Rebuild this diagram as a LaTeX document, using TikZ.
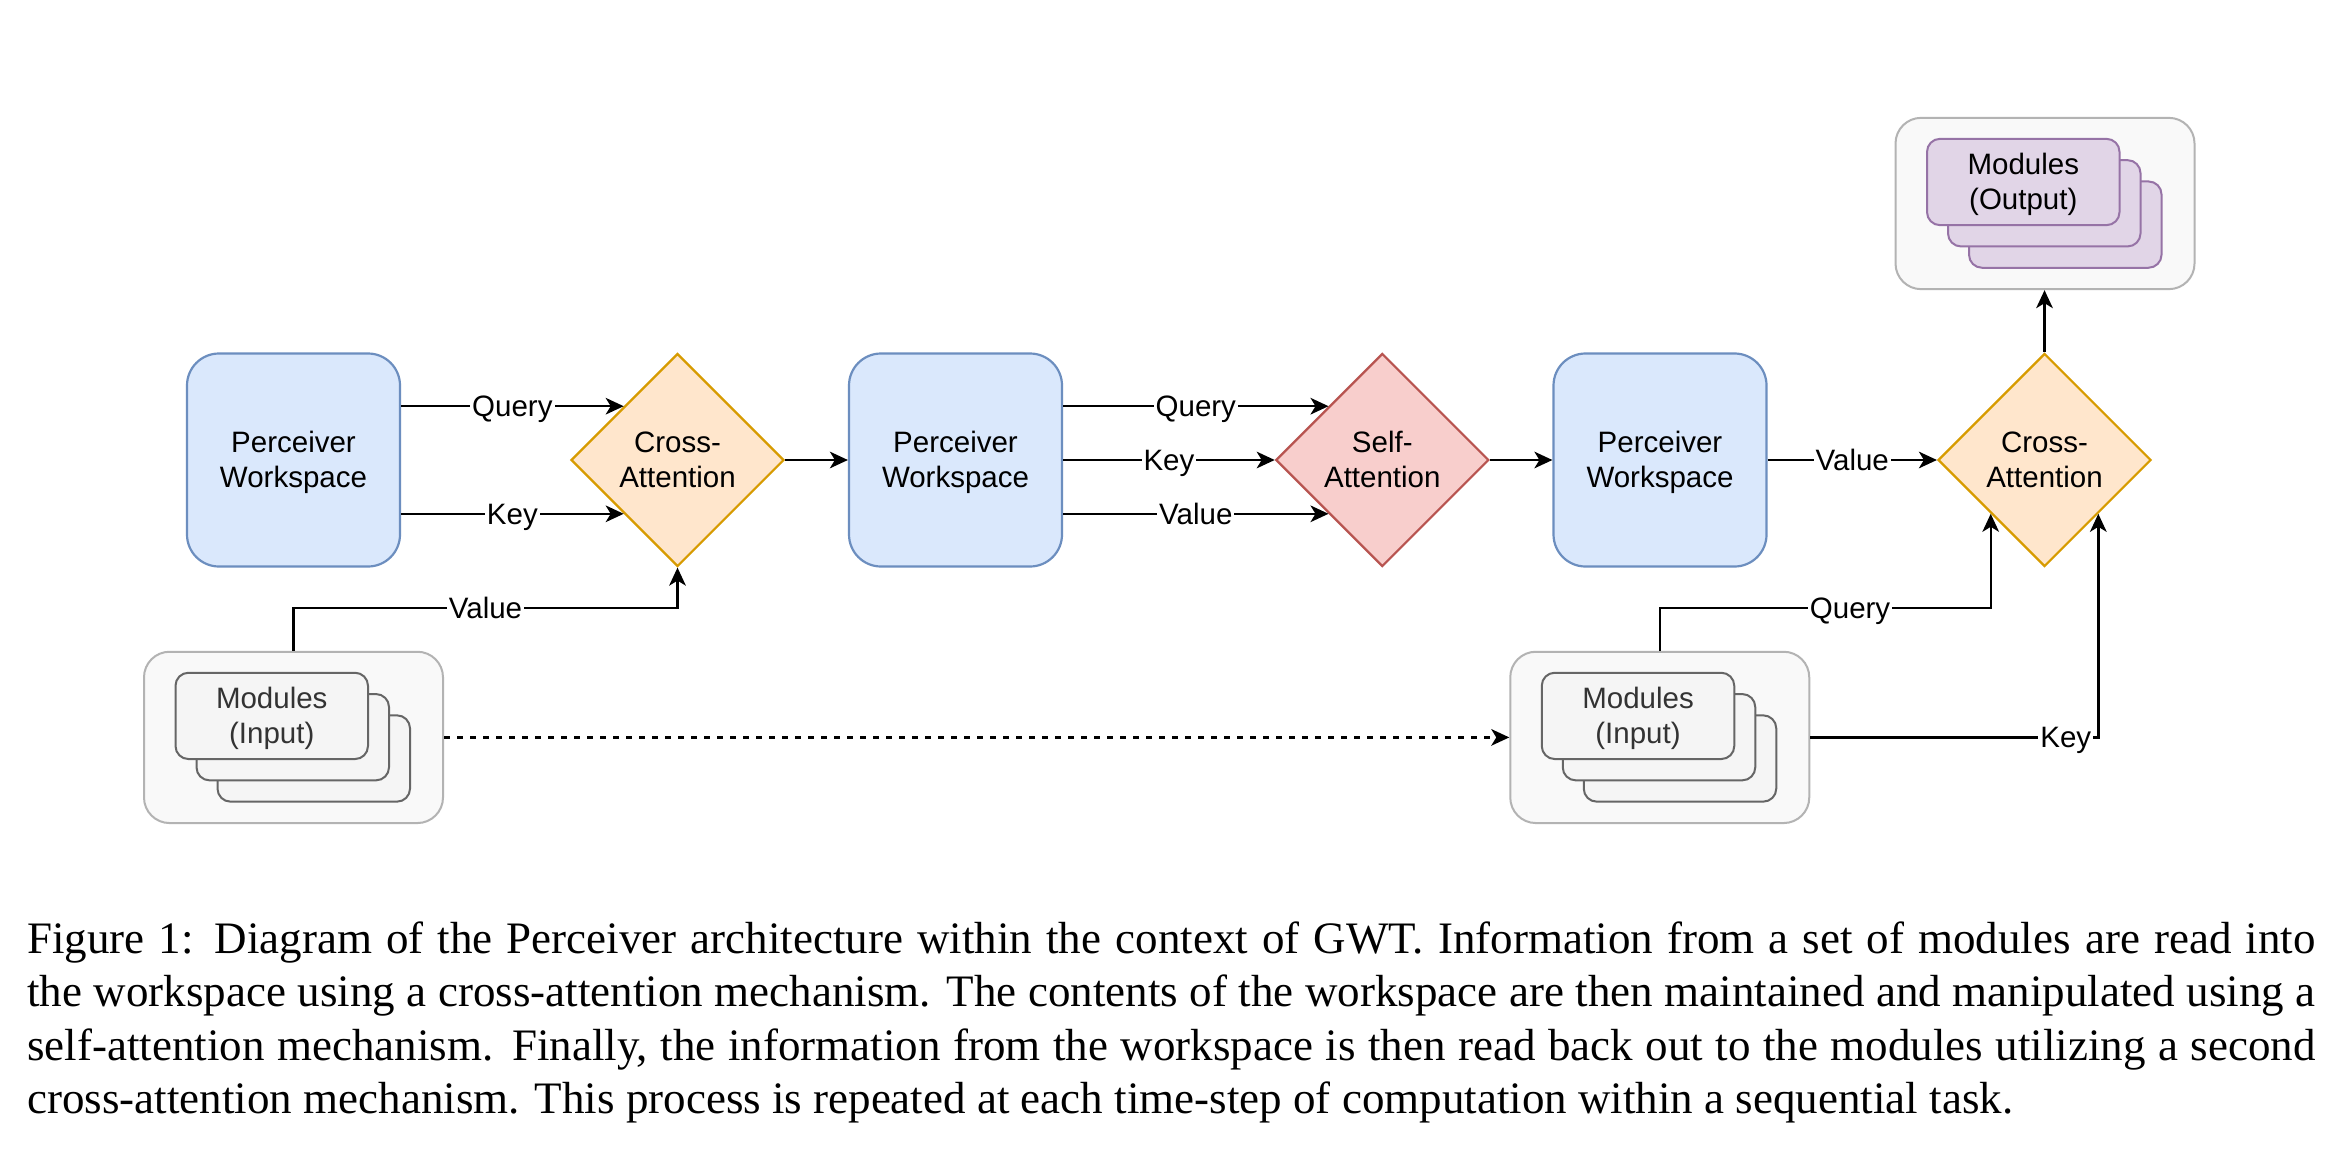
\documentclass[tikz,border=0pt]{standalone}
\usepackage{fontspec}
\setmainfont{Liberation Serif}
\newfontfamily\diafont{Liberation Sans}
\usetikzlibrary{shapes.geometric,arrows.meta,calc}
\definecolor{pwfill}{HTML}{DAE8FC}
\definecolor{pwstroke}{HTML}{6C8EBF}
\definecolor{cafill}{HTML}{FFE6CC}
\definecolor{castroke}{HTML}{D79B00}
\definecolor{safill}{HTML}{F8CECC}
\definecolor{sastroke}{HTML}{B85450}
\definecolor{mofill}{HTML}{E1D5E7}
\definecolor{mostroke}{HTML}{9673A6}
\definecolor{mifill}{HTML}{F5F5F5}
\definecolor{mistroke}{HTML}{666666}
\definecolor{mitext}{HTML}{333333}
\definecolor{cofill}{HTML}{F9F9F9}
\definecolor{costroke}{HTML}{B3B3B3}
\newcommand\lnstrut{\vrule height 13.88pt depth 3.62pt width 0pt}
\tikzset{
  dfont/.style={font=\diafont\fontsize{14.75pt}{17.5pt}\selectfont},
  pw/.style={dfont, draw=pwstroke, fill=pwfill, line width=1.1pt, rounded corners=16pt,
    minimum width=106.5pt, minimum height=106.5pt, inner sep=0pt, align=center},
  dia/.style={dfont, diamond, aspect=1, minimum width=106.5pt, minimum height=106.5pt,
    inner sep=0pt, line width=1.1pt, align=center},
  cont/.style={draw=costroke, fill=cofill, line width=1pt, rounded corners=12.8pt,
    minimum width=149.5pt, minimum height=85.65pt, inner sep=0pt},
  modbox/.style={dfont, line width=1pt, rounded corners=6.5pt, minimum width=96.25pt,
    minimum height=43.15pt, inner sep=0pt, align=center, anchor=north west},
  modin/.style={modbox, draw=mistroke, fill=mifill, text=mitext},
  modout/.style={modbox, draw=mostroke, fill=mofill, text=black},
  lbl/.style={dfont, fill=white, inner xsep=1pt, inner ysep=0pt, text height=13.88pt, text depth=3.62pt},
  arr/.style={-{Stealth[length=9pt,width=8.3pt,inset=2.5pt]}, line width=1.2pt}
}
\begin{document}
\begin{tikzpicture}[x=0.5pt,y=-0.5pt]
\fill[white] (0,0) rectangle (2348,1166);
\useasboundingbox (0,0) rectangle (2348,1166);

% main row
\node[pw] (pw1) at (293.5,460) {\lnstrut Perceiver\\\lnstrut Workspace};
\node[dia, draw=castroke, fill=cafill] (ca1) at (677.5,460) {\lnstrut Cross-\\\lnstrut Attention};
\node[pw] (pw2) at (955.5,460) {\lnstrut Perceiver\\\lnstrut Workspace};
\node[dia, draw=sastroke, fill=safill] (sa) at (1382.3,460) {\lnstrut Self-\\\lnstrut Attention};
\node[pw] (pw3) at (1660,460) {\lnstrut Perceiver\\\lnstrut Workspace};
\node[dia, draw=castroke, fill=cafill] (ca2) at (2044.5,460) {\lnstrut Cross-\\\lnstrut Attention};

% containers
\node[cont] (mi1c) at (293.5,737.4) {};
\node[cont] (mi2c) at (1659.75,737.4) {};
\node[cont] (outc) at (2045,203.5) {};

% module stacks
\node[modin] (mi1a) at ($(mi1c.north west)+(73.5,63.6)$) {};
\node[modin] (mi1b) at ($(mi1c.north west)+(52.5,42.3)$) {};
\node[modin] (mi1f) at ($(mi1c.north west)+(31.5,21)$) {\lnstrut Modules\\\lnstrut (Input)};

\node[modin] (mi2a) at ($(mi2c.north west)+(73.5,63.6)$) {};
\node[modin] (mi2b) at ($(mi2c.north west)+(52.5,42.3)$) {};
\node[modin] (mi2f) at ($(mi2c.north west)+(31.5,21)$) {\lnstrut Modules\\\lnstrut (Input)};

\node[modout] (moa) at ($(outc.north west)+(73.5,63.6)$) {};
\node[modout] (mob) at ($(outc.north west)+(52.5,42.3)$) {};
\node[modout] (mof) at ($(outc.north west)+(31.5,21)$) {\lnstrut Modules\\\lnstrut (Output)};

% coordinates on diamond borders
\coordinate (q1) at ($(ca1.west)!0.5!(ca1.north)$);
\coordinate (k1) at ($(ca1.west)!0.5!(ca1.south)$);
\coordinate (qs) at ($(sa.west)!0.5!(sa.north)$);
\coordinate (vs) at ($(sa.west)!0.5!(sa.south)$);
\coordinate (q2) at ($(ca2.west)!0.5!(ca2.south)$);
\coordinate (k2) at ($(ca2.east)!0.5!(ca2.south)$);
\coordinate (v1) at ($(mi1c.north)+(0,-42.5)$);
\coordinate (q2a) at ($(mi2c.north)+(0,-42.5)$);

% edges
\draw[arr] (pw1.east |- q1) -- node[lbl]{Query} (q1);
\draw[arr] (pw1.east |- k1) -- node[lbl]{Key} (k1);
\draw[arr] (mi1c.north) -- (v1) -- node[lbl]{Value} (v1 -| ca1.south) -- (ca1.south);
\draw[arr] (ca1.east) -- (pw2.west);
\draw[arr] (pw2.east |- qs) -- node[lbl]{Query} (qs);
\draw[arr] (pw2.east) -- node[lbl]{Key} (sa.west);
\draw[arr] (pw2.east |- vs) -- node[lbl]{Value} (vs);
\draw[arr] (sa.east) -- (pw3.west);
\draw[arr] (pw3.east) -- node[lbl]{Value} (ca2.west);
\draw[arr] (ca2.north) -- (ca2.north |- outc.south);
\draw[arr, dash pattern=on 3pt off 3.5pt] (mi1c.east) -- (mi2c.west);
\draw[arr] (mi2c.north) -- (q2a) -- node[lbl,pos=0.575]{Query} (q2a -| q2) -- (q2);
\draw[arr] (mi2c.east) -- node[lbl,pos=0.887]{Key} (mi2c.east -| k2) -- (k2);

% caption
\node[anchor=north west, inner sep=0pt, font=\fontsize{22.5pt}{26.8pt}\selectfont] (cap) at (27,921) {\vbox{%
\hbox to 1144pt{Figure 1: Diagram of the Perceiver architecture within the context of GWT. Information from a set of modules are read into}
\hbox to 1144pt{the workspace using a cross-attention mechanism. The contents of the workspace are then maintained and manipulated using a}
\hbox to 1144pt{self-attention mechanism. Finally, the information from the workspace is then read back out to the modules utilizing a second}
\hbox{cross-attention mechanism. This process is repeated at each time-step of computation within a sequential task.}}};
\end{tikzpicture}
\end{document}
